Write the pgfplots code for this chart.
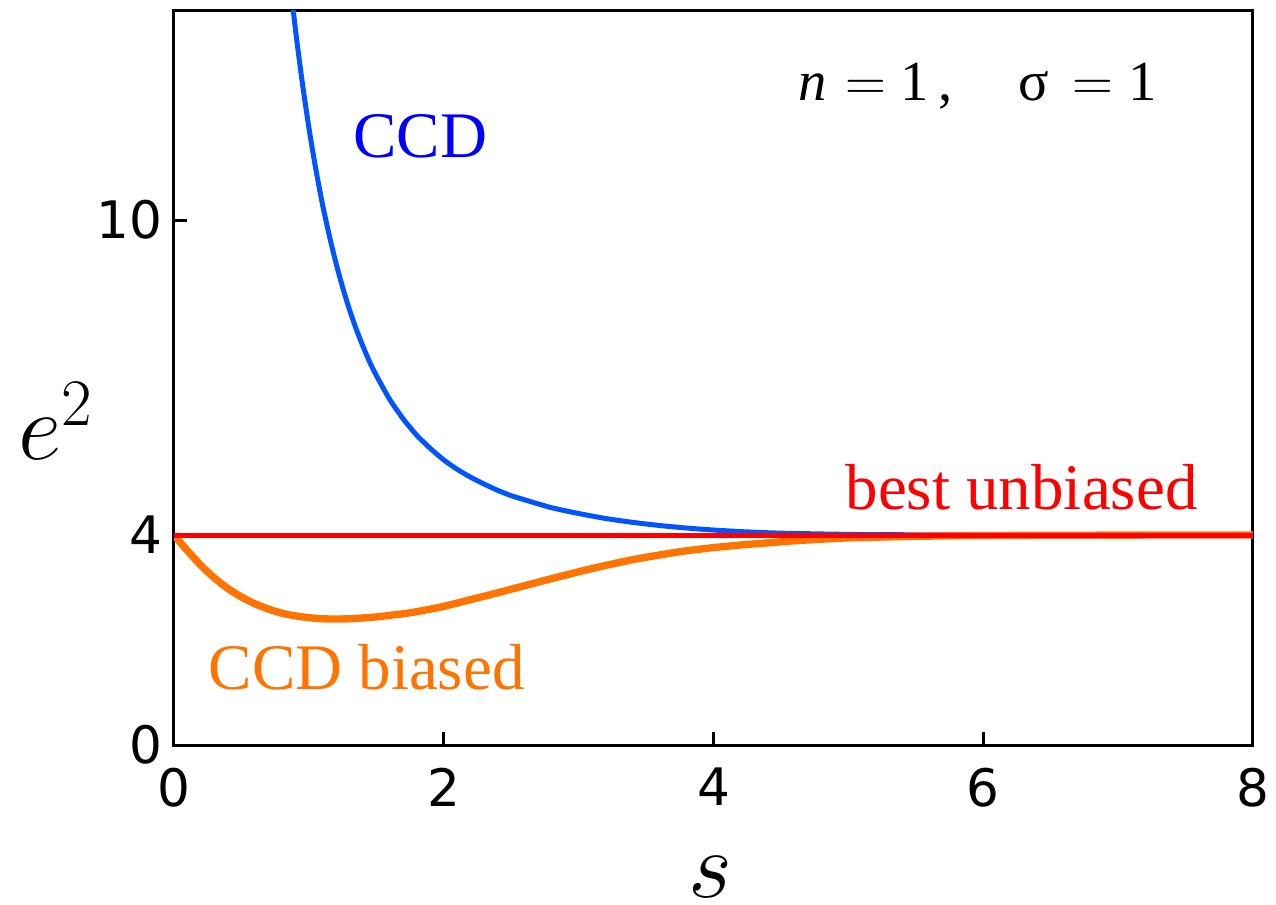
\RequirePackage{fix-cm}
\documentclass[border=0pt]{standalone}
\usepackage{fontspec}
\setmainfont{Liberation Serif}
\newfontfamily\dvsans{DejaVu Sans}
\usepackage{pgfplots}
\usepackage{pgfplotstable}
\pgfplotsset{compat=1.18}
\definecolor{ccdblue}{RGB}{0,85,255}
\definecolor{ccdtext}{RGB}{0,0,255}
\definecolor{ccdorange}{RGB}{255,115,0}

\pgfplotstableread{
s e2
0.85 14.79
0.90 13.64
0.95 12.64
1.00 11.76
1.05 10.99
1.10 10.31
1.15 9.72
1.20 9.19
1.25 8.72
1.30 8.30
1.35 7.93
1.40 7.60
1.45 7.30
1.50 7.04
1.60 6.58
1.70 6.21
1.80 5.90
1.90 5.65
2.00 5.43
2.10 5.25
2.20 5.10
2.30 4.97
2.40 4.85
2.50 4.75
2.60 4.67
2.80 4.52
3.00 4.41
3.20 4.315
3.40 4.241
3.60 4.181
3.80 4.133
4.00 4.095
4.25 4.059
4.50 4.035
5.00 4.012
5.50 4.004
6.00 4.001
7.00 4.0002
8.00 4.0000
}\ccd

\pgfplotstableread{
s e2
0.00 4.00
0.10 3.70
0.20 3.42
0.30 3.18
0.40 2.98
0.50 2.82
0.60 2.69
0.70 2.59
0.80 2.51
0.90 2.46
1.00 2.425
1.10 2.405
1.20 2.40
1.30 2.405
1.40 2.42
1.50 2.44
1.60 2.47
1.70 2.50
1.80 2.54
2.00 2.64
2.20 2.77
2.40 2.90
2.60 3.035
2.80 3.17
3.00 3.30
3.20 3.42
3.40 3.53
3.60 3.62
3.80 3.70
4.00 3.76
4.20 3.81
4.40 3.85
4.60 3.89
4.80 3.92
5.00 3.945
5.50 3.975
6.00 3.99
7.00 3.998
8.00 4.00
}\ccdbiased

\begin{document}
\begin{tikzpicture}
\begin{axis}[
  scale only axis, width=323.7pt, height=220.5pt,
  xmin=0, xmax=8, ymin=0, ymax=14,
  xtick={0,2,4,6,8}, ytick={0,4,10},
  tick pos=left, tick align=inside,
  major tick length=4pt,
  axis line style={line width=0.9pt},
  every tick/.style={black, line width=0.9pt},
  tick label style={font=\dvsans\fontsize{15.5}{18}\selectfont},
  /pgf/number format/assume math mode=true,
  xticklabel style={yshift=-3.3pt},
  xlabel={$s$}, ylabel={$e^2$},
  label style={font=\fontsize{28.5}{30}\selectfont, inner sep=0pt},
  xlabel style={at={(axis description cs:0.497,-0.207)}, anchor=base},
  ylabel style={at={(axis description cs:-0.1446,0.388)}, anchor=base west, rotate=-90},
]
\addplot[ccdblue, line width=1.5pt, no markers, smooth, tension=0.4] table[x=s, y=e2] {\ccd};
\addplot[ccdorange, line width=2.2pt, no markers, smooth, tension=0.4] table[x=s, y=e2] {\ccdbiased};
\addplot[red, line width=1.5pt, no markers] coordinates {(0,4) (8,4)};

\node[anchor=base west, inner sep=0, text=ccdtext, font=\fontsize{19.5}{22}\selectfont] at (axis cs:1.327,11.20) {CCD};
\node[anchor=base west, inner sep=0, text=ccdorange, font=\fontsize{19.5}{22}\selectfont] at (axis cs:0.252,1.05) {CCD biased};
\node[anchor=base west, inner sep=0, text=red, font=\fontsize{19.5}{22}\selectfont] at (axis cs:4.974,4.485) {best unbiased};
\node[anchor=base west, inner sep=0, font=\fontsize{17}{20}\selectfont] at (axis cs:4.626,12.28) {\textit{n}\hspace{5.7pt}$=$\hspace{4.2pt}1\hspace{2.7pt},\hspace{19.9pt}σ\hspace{7pt}$=$\hspace{4.5pt}1};
\end{axis}
\pgfresetboundingbox
\useasboundingbox (-52.2pt,-47.7pt) rectangle (330.6pt,223.5pt);
\end{tikzpicture}
\end{document}
